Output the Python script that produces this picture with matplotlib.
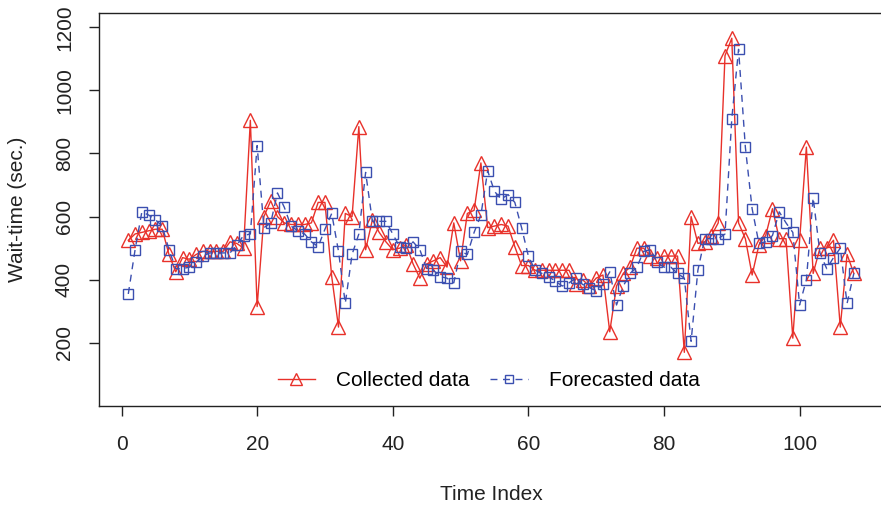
import numpy as np
import matplotlib
matplotlib.use('Agg')
import matplotlib.pyplot as plt

plt.rcParams['font.family'] = ['Liberation Sans', 'DejaVu Sans']

collected = [525, 545, 550, 555, 560, 560, 480, 425, 470, 465,
             480, 490, 490, 490, 490, 520, 515, 500, 905, 315,
             600, 650, 600, 580, 575, 575, 575, 580, 645, 645,
             410, 250, 610, 600, 885, 495, 590, 550, 520, 495,
             500, 510, 450, 405, 450, 460, 470, 440, 580, 460,
             610, 620, 770, 565, 570, 575, 570, 505, 445, 445,
             430, 430, 430, 430, 430, 430, 385, 400, 380, 405,
             415, 235, 380, 420, 440, 500, 500, 475, 470, 475,
             475, 475, 170, 600, 515, 520, 540, 580, 1110, 1165,
             580, 530, 415, 510, 540, 625, 530, 530, 215, 525,
             820, 420, 500, 500, 525, 250, 480, 420]

forecasted = [355, 495, 615, 605, 590, 570, 495, 435, 435, 440,
              455, 475, 485, 485, 485, 485, 510, 540, 545, 825,
              565, 580, 675, 630, 570, 555, 545, 520, 505, 560,
              610, 490, 325, 480, 545, 740, 585, 585, 585, 545,
              505, 500, 520, 495, 435, 430, 410, 405, 390, 490,
              480, 550, 605, 745, 680, 655, 670, 645, 565, 475,
              430, 420, 410, 395, 380, 390, 405, 385, 375, 365,
              385, 425, 320, 380, 420, 440, 490, 495, 455, 440,
              440, 420, 405, 205, 430, 530, 530, 530, 545, 910,
              1130, 820, 625, 515, 520, 540, 615, 580, 550, 320,
              400, 660, 485, 435, 470, 500, 325, 420]

x_ticks = [0, 20, 40, 60, 80, 100]
y_ticks = [200, 400, 600, 800, 1000, 1200]

idx = np.arange(1, len(collected) + 1)

red = '#e8312a'
blue = '#3b4fb0'

fig = plt.figure(figsize=(8.81, 5.05), dpi=100)
W, H = 881, 505
ax = fig.add_axes([99 / W, 1 - 406 / H, (883 - 99) / W, (406 - 13) / H])

ax.plot(idx, collected, color=red, lw=1.0, marker='^', markersize=10,
        markerfacecolor='none', markeredgecolor=red, markeredgewidth=1.0,
        label='Collected data')
ax.plot(idx, forecasted, color=blue, lw=1.0, linestyle=(0, (5, 4)), marker='s',
        markersize=7, markerfacecolor='none', markeredgecolor=blue,
        markeredgewidth=1.0, label='Forecasted data')

ax.set_xlim(-3.32, 112.3)
ax.set_ylim(0, 1245)
ax.set_xticks(x_ticks)
ax.set_yticks(y_ticks)
ax.set_yticklabels([str(v) for v in y_ticks], rotation=90, va='center')
ax.tick_params(direction='out', length=7, width=1, labelsize=15,
               colors='#222222')
ax.tick_params(axis='x', pad=14)
ax.tick_params(axis='y', pad=11)
for s in ax.spines.values():
    s.set_linewidth(1)
    s.set_color('#222222')

ax.set_xlabel('Time Index', fontsize=15, labelpad=22, color='#222222')
ax.set_ylabel('Wait-time (sec.)', fontsize=15, labelpad=20, color='#222222')

ax.legend(loc='center', bbox_to_anchor=(0.497, 0.064), ncol=2,
          frameon=False, fontsize=15, handlelength=1.8, columnspacing=1.0,
          handletextpad=1.0, markerscale=0.85)

fig.savefig('out.png', dpi=100)
